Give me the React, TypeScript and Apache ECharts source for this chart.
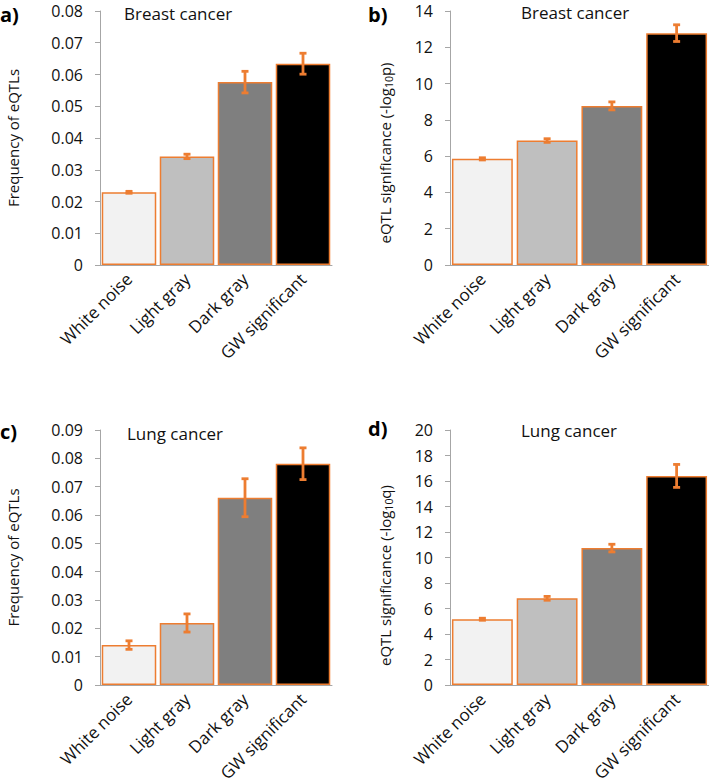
import React, { useEffect, useRef } from "react";
import * as echarts from "echarts";

const categories = ["White noise", "Light gray", "Dark gray", "GW significant"];
const barColors = ["#F2F2F2", "#BFBFBF", "#7F7F7F", "#000000"];

const breastFreq = [0.0229, 0.0342, 0.0576, 0.0634];
const breastFreqErr = [0.0003, 0.0007, 0.0034, 0.0033];
const breastSig = [5.85, 6.86, 8.77, 12.78];
const breastSigErr = [0.06, 0.1, 0.22, 0.46];
const lungFreq = [0.0141, 0.0219, 0.0661, 0.0781];
const lungFreqErr = [0.0015, 0.0032, 0.0067, 0.0056];
const lungSig = [5.16, 6.8, 10.74, 16.4];
const lungSigErr = [0.08, 0.15, 0.3, 0.9];

const FONT = "Open Sans";
const ORANGE = "#ED7D31";
const AXIS_GRAY = "#A6A6A6";

export default function App() {
  const ref = useRef<HTMLDivElement>(null);
  useEffect(() => {
    if (!ref.current) return;
    const chart = echarts.init(ref.current, null, { renderer: "svg" });

    const panels = [
      { vals: breastFreq, errs: breastFreqErr, max: 0.08, interval: 0.01, dec: 2, name: "Frequency of eQTLs", sub: "", tail: "", grid: { left: 100, top: 11, width: 232, height: 254 }, gap: 78, shift: 0 },
      { vals: breastSig, errs: breastSigErr, max: 14, interval: 2, dec: 0, name: "eQTL significance (-log", sub: "10", tail: "p)", grid: { left: 450, top: 11, width: 259, height: 254 }, gap: 56, shift: 30 },
      { vals: lungFreq, errs: lungFreqErr, max: 0.09, interval: 0.01, dec: 2, name: "Frequency of eQTLs", sub: "", tail: "", grid: { left: 100, top: 430, width: 232, height: 256 }, gap: 78, shift: 0 },
      { vals: lungSig, errs: lungSigErr, max: 20, interval: 2, dec: 0, name: "eQTL significance (-log", sub: "10", tail: "q)", grid: { left: 450, top: 430, width: 259, height: 256 }, gap: 56, shift: 36 },
    ];

    const grids: any[] = [];
    const xAxes: any[] = [];
    const yAxes: any[] = [];
    const series: any[] = [];

    panels.forEach((p, i) => {
      grids.push({ ...p.grid, containLabel: false });
      xAxes.push({
        type: "category",
        gridIndex: i,
        data: categories,
        axisLine: { lineStyle: { color: AXIS_GRAY, width: 1 } },
        axisTick: { show: false },
        axisLabel: { rotate: 45, margin: 11, fontSize: 17, color: "#111", fontFamily: FONT, interval: 0 },
      });
      const nm = p.sub ? `${p.name}{sub|${p.sub}}${p.tail}` : p.name;
      yAxes.push({
        type: "value",
        gridIndex: i,
        min: 0,
        max: p.max,
        interval: p.interval,
        name: nm,
        nameLocation: "middle",
        nameGap: p.gap,
        nameTextStyle: {
          fontSize: 15,
          fontFamily: FONT,
          color: "#111",
          lineHeight: 19,
          padding: [0, p.shift, 0, 0],
          rich: { sub: { fontSize: 10.5, lineHeight: 10, verticalAlign: "bottom", fontFamily: FONT, color: "#111" } },
        },
        axisLine: { show: true, lineStyle: { color: AXIS_GRAY, width: 1 } },
        axisTick: { show: true, length: 5, lineStyle: { color: AXIS_GRAY } },
        splitLine: { show: false },
        axisLabel: {
          margin: 17,
          fontSize: 16,
          lineHeight: 16,
          color: "#111",
          fontFamily: FONT,
          formatter: (v: number) => (v === 0 ? "0" : v.toFixed(p.dec)),
        },
      });
      series.push({
        type: "bar",
        xAxisIndex: i,
        yAxisIndex: i,
        barCategoryGap: "6%",
        data: p.vals.map((v, j) => ({ value: v, itemStyle: { color: barColors[j] } })),
        itemStyle: { borderColor: ORANGE, borderWidth: 1.5 },
      });
      series.push({
        type: "custom",
        xAxisIndex: i,
        yAxisIndex: i,
        data: p.vals.map((v, j) => [j, v - p.errs[j], v + p.errs[j]]),
        renderItem: (params: any, api: any) => {
          const x = api.value(0);
          const lo = api.coord([x, api.value(1)]);
          const hi = api.coord([x, api.value(2)]);
          const hw = 3.5;
          const style = { stroke: ORANGE, lineWidth: 2.8 };
          return {
            type: "group",
            children: [
              { type: "line", shape: { x1: lo[0], y1: lo[1], x2: hi[0], y2: hi[1] }, style },
              { type: "line", shape: { x1: lo[0] - hw, y1: lo[1], x2: lo[0] + hw, y2: lo[1] }, style },
              { type: "line", shape: { x1: hi[0] - hw, y1: hi[1], x2: hi[0] + hw, y2: hi[1] }, style },
            ],
          };
        },
        z: 10,
      });
    });

    const titleStyle = { fontSize: 17, lineHeight: 20, fontWeight: "normal", color: "#111", fontFamily: FONT };
    const labelStyle = { fontSize: 20, lineHeight: 22, fontWeight: "bold", color: "#000", fontFamily: FONT };

    chart.setOption({
      animation: false,
      title: [
        { text: "Breast cancer", left: 124, top: 3, textStyle: titleStyle },
        { text: "Breast cancer", left: 521, top: 2, textStyle: titleStyle },
        { text: "Lung cancer", left: 127, top: 423, textStyle: titleStyle },
        { text: "Lung cancer", left: 521, top: 420, textStyle: titleStyle },
        { text: "a)", left: 0, top: 3, textStyle: labelStyle },
        { text: "b)", left: 368, top: 3, textStyle: labelStyle },
        { text: "c)", left: 0, top: 420, textStyle: labelStyle },
        { text: "d)", left: 368, top: 417, textStyle: labelStyle },
      ].map((t) => ({ ...t, padding: 0 })),
      grid: grids,
      xAxis: xAxes,
      yAxis: yAxes,
      series,
    });
    return () => chart.dispose();
  }, []);
  return <div ref={ref} style={{ position: "absolute", left: 0, top: 0, width: 709, height: 784 }} />;
}
